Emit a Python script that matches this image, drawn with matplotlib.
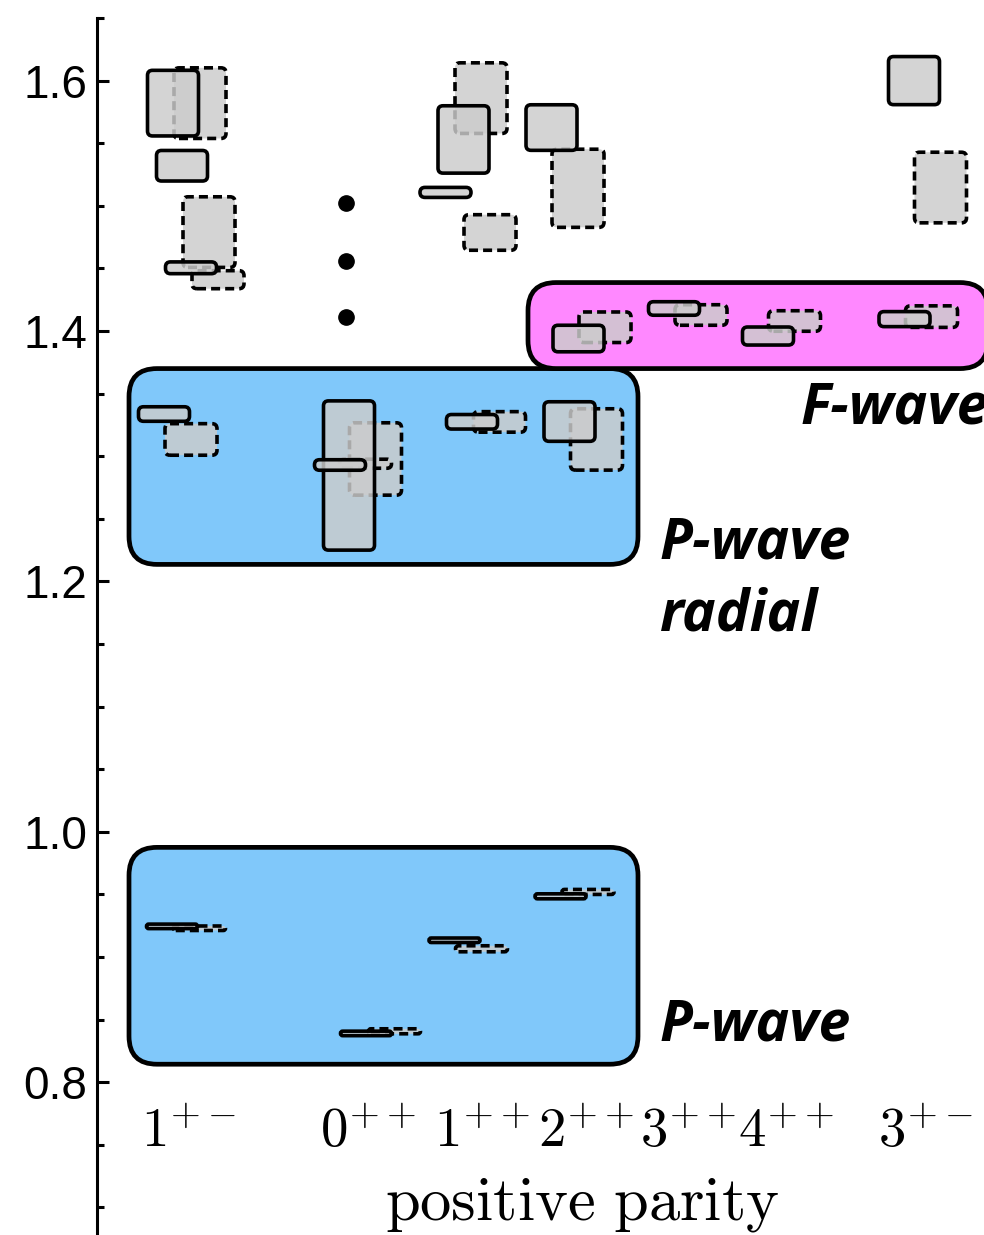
import matplotlib
matplotlib.use('Agg')
import matplotlib.pyplot as plt
from matplotlib.patches import FancyBboxPatch
from matplotlib.ticker import MultipleLocator

plt.rcParams['mathtext.fontset'] = 'cm'

# ---------------- data ----------------
categories = [r'1^{+-}', r'0^{++}', r'1^{++}', r'2^{++}', r'3^{++}', r'4^{++}', r'3^{+-}']
category_x = [189, 368, 482, 586, 688, 786, 926]

# solid-outline series: mass, half-height (uncertainty), horizontal slot
solid_mass = [1.582, 1.532, 1.4505, 1.3337, 0.9245,
              1.2846, 1.293, 0.839,
              1.553, 1.5107, 1.3275, 0.9134,
              1.5625, 1.394, 1.3277, 0.9485,
              1.418,
              1.396,
              1.600, 1.4095]
solid_err = [0.0262, 0.0122, 0.0047, 0.0058, 0.0018,
             0.0596, 0.0042, 0.0018,
             0.0269, 0.0040, 0.0058, 0.0018,
             0.0182, 0.0106, 0.0158, 0.0020,
             0.0054,
             0.0072,
             0.0192, 0.0060]
solid_slot = [173, 182, 191, 164, 172,
              349, 340, 366,
              463.5, 445.5, 472, 454.5,
              551.5, 578.5, 569.5, 560.5,
              674,
              768,
              914, 904.5]

# dashed-outline series
dashed_mass = [1.582, 1.479, 1.441, 1.3134, 0.923,
               1.2978, 1.294, 0.8407,
               1.586, 1.4787, 1.3274, 0.9066,
               1.514, 1.403, 1.3134, 0.952,
               1.4128,
               1.408,
               1.5146, 1.4115]
dashed_err = [0.0282, 0.0282, 0.0072, 0.0126, 0.0018,
              0.0289, 0.0036, 0.0020,
              0.0282, 0.0142, 0.0082, 0.0024,
              0.0312, 0.0122, 0.0245, 0.0020,
              0.0082,
              0.0082,
              0.0282, 0.0086]
dashed_slot = [200, 209, 218, 191, 199.5,
               375.5, 365.5, 394.5,
               481, 490, 499.5, 481.5,
               578, 605, 596.5, 588,
               701,
               794.5,
               940.5, 931.5]

# vertical ellipsis for 0++
dots_mass = [1.502, 1.456, 1.411]
dots_x = 346

# highlight regions
regions_lbl = ['P-wave', 'P-wave radial', 'F-wave']
regions_y = [(0.8144, 0.9876), (1.2136, 1.370), (1.370, 1.4387)]
regions_x = [(129, 638), (129, 638), (528, 988)]
regions_col = ['#80c8fa', '#80c8fa', '#ff88ff']

# ---------------- figure ----------------
W, H = 984, 1235
fig = plt.figure(figsize=(W / 100, H / 100), dpi=100)
ax = fig.add_axes([97 / W, 0, 1 - 97 / W, (H - 18) / H])
ax.set_xlim(97, 984)
ax.set_ylim(0.678, 1.65)

# px per data unit
p0 = ax.transData.transform((0, 0))
p1 = ax.transData.transform((1, 1))
px_x = p1[0] - p0[0]
px_y = p1[1] - p0[1]
aspect = px_x / px_y

for (x0, x1), (y0, y1), col in zip(regions_x, regions_y, regions_col):
    r = 28 / px_x
    p = FancyBboxPatch((x0, y0), x1 - x0, y1 - y0,
                       boxstyle=f"round,pad=0,rounding_size={r}",
                       mutation_aspect=aspect, facecolor=col,
                       edgecolor='black', linewidth=3.4, zorder=1,
                       clip_on=False)
    ax.add_patch(p)


def draw_box(xc, m, e, w, ls, z):
    h_px = 2 * e * px_y
    r = min(5.0, h_px / 2) / px_x
    p = FancyBboxPatch((xc - w / 2, m - e), w, 2 * e,
                       boxstyle=f"round,pad=0,rounding_size={r}",
                       mutation_aspect=aspect,
                       facecolor=(0.80, 0.80, 0.80, 0.83),
                       edgecolor='black', linewidth=2.6,
                       linestyle=ls, zorder=z)
    ax.add_patch(p)


for xc, m, e in zip(dashed_slot, dashed_mass, dashed_err):
    draw_box(xc, m, e, 52, (0, (2.5, 1.4)), 2)
for i, (xc, m, e) in enumerate(zip(solid_slot, solid_mass, solid_err)):
    draw_box(xc, m, e, 51, 'solid', 3 + i * 0.01)

ax.plot([dots_x] * len(dots_mass), dots_mass, 'o', color='black',
        markersize=11, zorder=4)

# region labels
lab_kw = dict(fontfamily='Open Sans', fontweight='bold', fontstyle='italic',
              fontsize=41, ha='left', va='baseline', clip_on=False, zorder=5)
ax.text(660, 1.2184, 'P-wave', **lab_kw)
ax.text(660, 1.1610, 'radial', **lab_kw)
ax.text(660, 0.8335, 'P-wave', **lab_kw)
ax.text(801, 1.3260, 'F-wave', **lab_kw)

# category labels
for lbl, x in zip(categories, category_x):
    ax.text(x, 0.748, '$' + lbl + '$', fontsize=39.5, ha='center',
            va='baseline')
ax.text(582, 0.690, r'$\mathrm{positive\ parity}$', fontsize=45,
        ha='center', va='baseline')

# axes styling
for s in ['top', 'right', 'bottom']:
    ax.spines[s].set_visible(False)
ax.spines['left'].set_linewidth(2.2)
ax.set_xticks([])
ax.yaxis.set_minor_locator(MultipleLocator(0.05))
ax.set_yticks([0.8, 1.0, 1.2, 1.4, 1.6])
ax.set_yticklabels(['0.8', '1.0', '1.2', '1.4', '1.6'],
                   fontfamily='Liberation Sans', fontsize=33)
ax.tick_params(axis='y', which='major', direction='in', length=8.5,
               width=2.2, pad=7)
ax.tick_params(axis='y', which='minor', direction='in', length=5,
               width=2.2)

fig.savefig('out.png', dpi=100)
